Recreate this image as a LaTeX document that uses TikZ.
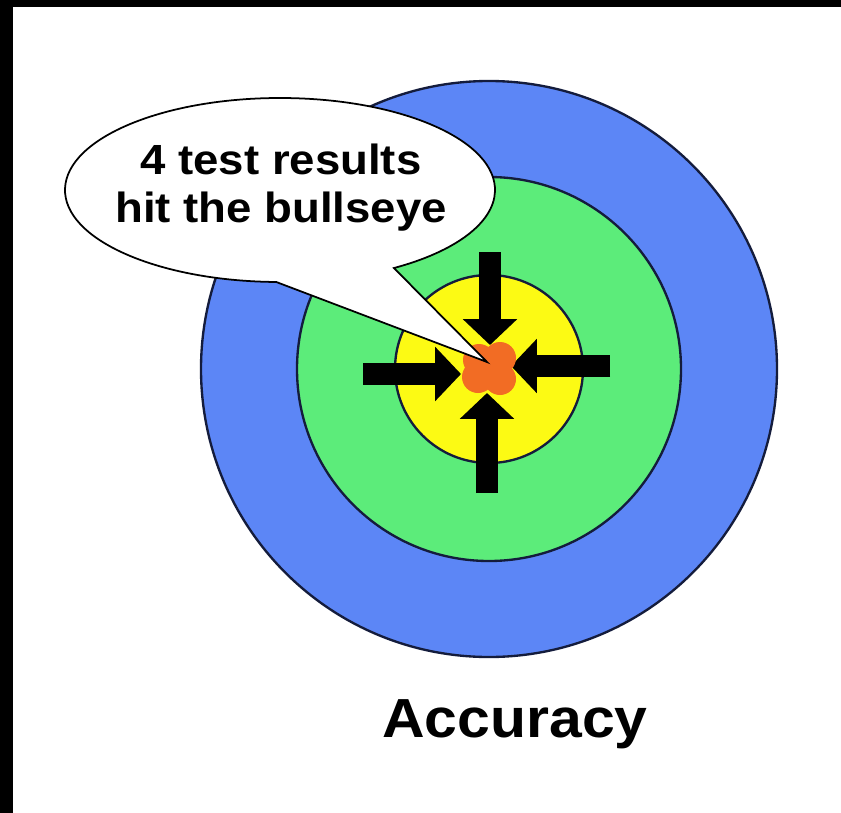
\documentclass[tikz,border=0pt]{standalone}
\usepackage{fontspec}
\newfontfamily\bubblefont[FakeStretch=1.08]{Liberation Sans}
\newfontfamily\titlefont[FakeStretch=1.07]{Liberation Sans}
\usepackage{tikz}
\usetikzlibrary{arrows.meta,positioning,calc}
\definecolor{ringblue}{RGB}{92,134,246}
\definecolor{ringgreen}{RGB}{92,236,122}
\definecolor{ringyellow}{RGB}{252,250,20}
\definecolor{hitorange}{RGB}{242,108,36}
\definecolor{ringline}{RGB}{20,28,60}

\begin{document}
\begin{tikzpicture}[x=0.03cm, y=-0.03cm,
    ring/.style={draw=ringline, line width=2pt},
    hitarrow/.style={black, line width=18pt, -{Triangle[length=22pt, width=45pt]}},
    hitdot/.style={fill=hitorange}]
  \useasboundingbox (0,0) rectangle (841,813);
  \fill[black] (0,0) rectangle (841,813);
  \fill[white] (13,7) rectangle (841,813);

  % target rings
  \coordinate (bull) at (489,369);
  \draw[ring, fill=ringblue] (bull) circle[radius=288];
  \draw[ring, fill=ringgreen] (bull) circle[radius=192];
  \draw[ring, fill=ringyellow] (bull) circle[radius=94];

  % arrows pointing at the bullseye
  \coordinate (upS) at (490,252);    \coordinate (upT) at (490,345);
  \coordinate (downS) at (487,493);  \coordinate (downT) at (487,393);
  \coordinate (leftS) at (363,374);  \coordinate (leftT) at (461,374);
  \coordinate (rightS) at (610,366); \coordinate (rightT) at (511,366);
  \draw[hitarrow] (upS) -- (upT);
  \draw[hitarrow] (downS) -- (downT);
  \draw[hitarrow] (leftS) -- (leftT);
  \draw[hitarrow] (rightS) -- (rightT);

  % the four hits
  \foreach \dx/\dy in {-11/8, 11/-11, 11/10, -10/-9}
    \fill[hitdot] ($(bull)+(\dx,\dy)$) circle[radius=16];

  % speech bubble
  \coordinate (bubblec) at (280,190);
  \coordinate (tip) at (487,362);
  \draw[line width=1.5pt, fill=white]
    ($(bubblec)+(91:215 and 92)$) arc[start angle=91, end angle=418, x radius=215, y radius=92]
    -- (tip) -- cycle;
  \node[font=\bubblefont\bfseries\fontsize{36}{41}\selectfont, align=center] (bubble) at (281,188) {4 test results\\hit the bullseye};

  \node[font=\titlefont\bfseries\fontsize{47}{56}\selectfont, anchor=base] (title) at (515,737) {Accuracy};
\end{tikzpicture}
\end{document}
